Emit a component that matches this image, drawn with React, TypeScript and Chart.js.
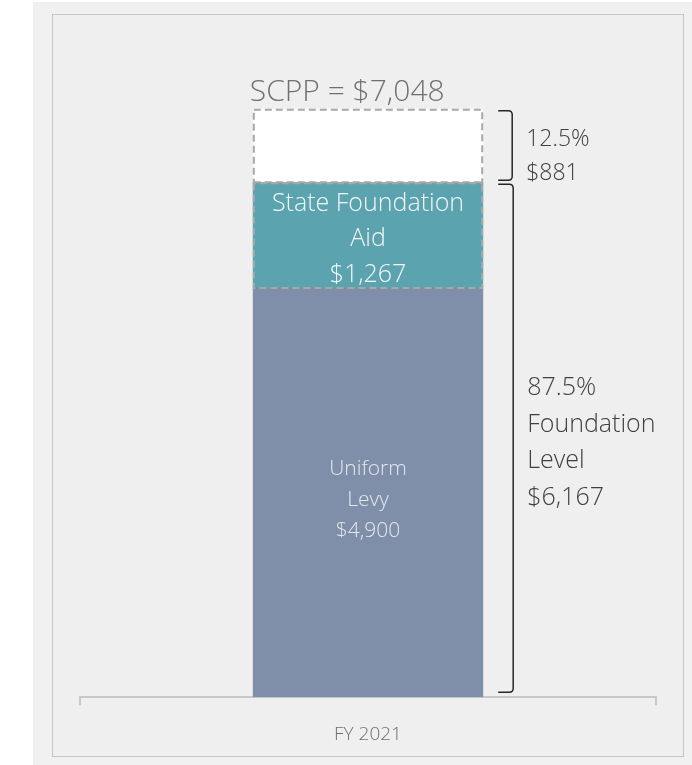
import React, { useEffect, useRef } from 'react';
import { Chart, registerables } from 'chart.js';

Chart.register(...registerables);

const categories = ['FY 2021'];
const uniformLevy = [4900];
const stateFoundationAid = [1267];
const remainderGap = [881];
const scppLabel = 'SCPP = $7,048';
const aidLabel = ['State Foundation', 'Aid', '$1,267'];
const levyLabel = ['Uniform', 'Levy', '$4,900'];
const gapNote = ['12.5%', '$881'];
const foundationNote = ['87.5%', 'Foundation', 'Level', '$6,167'];
const yMax = 7775;

const FONT = '"Open Sans", "Noto Sans", sans-serif';

function drawBracket(ctx: CanvasRenderingContext2D, x0: number, top: number, bottom: number, w: number) {
  const r = 4;
  ctx.beginPath();
  ctx.moveTo(x0, top);
  ctx.lineTo(x0 + w - r, top);
  ctx.quadraticCurveTo(x0 + w, top, x0 + w, top + r);
  ctx.lineTo(x0 + w, bottom - r);
  ctx.quadraticCurveTo(x0 + w, bottom, x0 + w - r, bottom);
  ctx.lineTo(x0, bottom);
  ctx.stroke();
}

const decorPlugin = {
  id: 'decor',
  beforeDraw(chart: any) {
    const ctx = chart.ctx as CanvasRenderingContext2D;
    ctx.save();
    ctx.fillStyle = '#ffffff';
    ctx.fillRect(0, 0, chart.width, chart.height);
    ctx.fillStyle = '#f0f0f0';
    ctx.fillRect(33, 2, chart.width - 33, chart.height - 2);
    ctx.fillStyle = '#efefef';
    ctx.fillRect(52, 14, 632, 743);
    ctx.strokeStyle = '#c6c6c6';
    ctx.lineWidth = 1;
    ctx.strokeRect(52.5, 14.5, 631, 742);
    ctx.restore();
  },
  afterDatasetsDraw(chart: any) {
    const ctx = chart.ctx as CanvasRenderingContext2D;
    const levy = chart.getDatasetMeta(0).data[0];
    const aid = chart.getDatasetMeta(1).data[0];
    const gap = chart.getDatasetMeta(2).data[0];
    const left = levy.x - levy.width / 2;
    const right = levy.x + levy.width / 2;
    ctx.save();
    // dashed outlines
    ctx.setLineDash([7, 4]);
    ctx.strokeStyle = '#a8a8a8';
    ctx.lineWidth = 2;
    ctx.strokeRect(left + 1, gap.y + 1, right - left - 2, gap.base - gap.y);
    ctx.strokeRect(left + 1, aid.y, right - left - 2, aid.base - aid.y);
    ctx.setLineDash([]);

    // SCPP label
    ctx.fillStyle = '#707070';
    ctx.font = `300 30px ${FONT}`;
    ctx.textAlign = 'left';
    ctx.textBaseline = 'middle';
    ctx.fillText(scppLabel, left - 3, gap.y - 16);

    // inside labels
    ctx.textAlign = 'center';
    ctx.fillStyle = '#f2f6f7';
    ctx.font = `300 25px ${FONT}`;
    const aidMid = (aid.y + aid.base) / 2 + 4;
    aidLabel.forEach((t, i) => ctx.fillText(t, aid.x, aidMid + (i - 1) * 35.5));
    ctx.fillStyle = '#e4e8ee';
    ctx.font = `300 21px ${FONT}`;
    const levyMid = (levy.y + levy.base) / 2 + 7;
    levyLabel.forEach((t, i) => ctx.fillText(t, levy.x, levyMid + (i - 1) * 31));

    // brackets
    ctx.strokeStyle = '#262626';
    ctx.lineWidth = 1.5;
    drawBracket(ctx, right + 15, gap.y + 2, gap.base - 2, 14);
    drawBracket(ctx, right + 15, gap.base + 2, levy.base - 5, 15);

    // bracket notes
    ctx.textAlign = 'left';
    ctx.fillStyle = '#404040';
    ctx.font = `300 23px ${FONT}`;
    const gapMid = (gap.y + gap.base) / 2 + 11;
    gapNote.forEach((t, i) => ctx.fillText(t, right + 43, gapMid + (i - 0.5) * 34));
    ctx.font = `300 25px ${FONT}`;
    const fMid = (gap.base + levy.base) / 2 + 3;
    foundationNote.forEach((t, i) => ctx.fillText(t, right + 44, fMid + (i - 1.5) * 36.5));
    ctx.restore();
  },
};

export default function App() {
  const ref = useRef<HTMLCanvasElement | null>(null);
  useEffect(() => {
    if (!ref.current) return;
    const chart = new Chart(ref.current, {
      type: 'bar',
      data: {
        labels: categories,
        datasets: [
          { label: 'Uniform Levy', data: uniformLevy, backgroundColor: '#7f8ea9', borderWidth: 0 },
          { label: 'State Foundation Aid', data: stateFoundationAid, backgroundColor: '#5ba3ae', borderWidth: 0 },
          { label: 'Remaining', data: remainderGap, backgroundColor: '#ffffff', borderWidth: 0 },
        ],
      },
      options: {
        responsive: false,
        animation: false,
        devicePixelRatio: 1,
        layout: { padding: { left: 80, right: 36, top: 48, bottom: 1 } },
        datasets: { bar: { barPercentage: 0.8, categoryPercentage: 0.5 } },
        plugins: { legend: { display: false }, tooltip: { enabled: false } },
        scales: {
          x: {
            stacked: true,
            grid: { display: true, drawOnChartArea: false, drawTicks: true, tickLength: 8, color: '#c8c8c8', lineWidth: 2 },
            border: { display: true, color: '#c8c8c8', width: 2 },
            ticks: { color: '#707070', font: { family: FONT, size: 19, weight: '300' as any }, padding: 18 },
          },
          y: { stacked: true, display: false, min: 0, max: yMax },
        },
      },
      plugins: [decorPlugin],
    });
    return () => chart.destroy();
  }, []);
  return (
    <div style={{ position: 'absolute', left: 0, top: 0, width: 692, height: 765 }}>
      <canvas ref={ref} width={692} height={765} style={{ display: 'block', width: 692, height: 765 }} />
    </div>
  );
}
